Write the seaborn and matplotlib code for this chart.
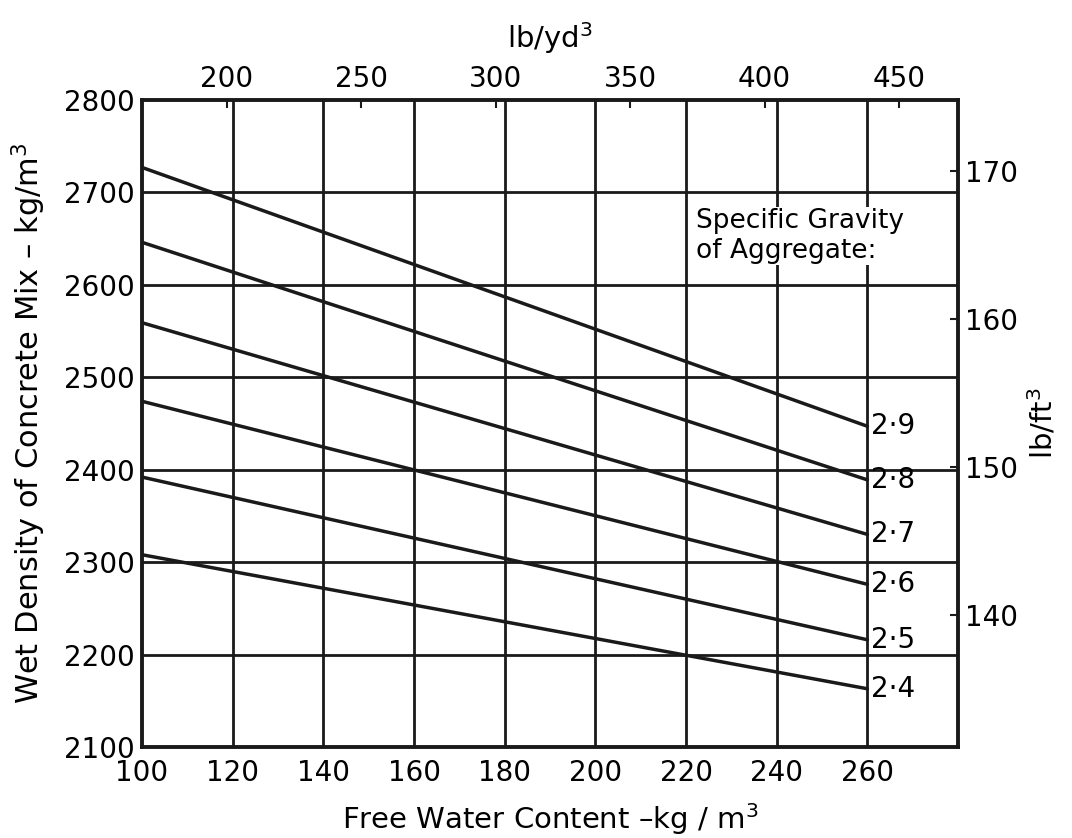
import matplotlib
matplotlib.use("Agg")
import matplotlib.pyplot as plt
import seaborn as sns
import pandas as pd

# Data (straight lines, endpoints)
water_kg = [100, 260]
sg_labels = ["2·9", "2·8", "2·7", "2·6", "2·5", "2·4"]
density_2_9 = [2727, 2447]
density_2_8 = [2646, 2389]
density_2_7 = [2559, 2330]
density_2_6 = [2474, 2276]
density_2_5 = [2392, 2216]
density_2_4 = [2308, 2163]
series = [density_2_9, density_2_8, density_2_7, density_2_6, density_2_5, density_2_4]

x_ticks = [100, 120, 140, 160, 180, 200, 220, 240, 260]
y_ticks = [2100, 2200, 2300, 2400, 2500, 2600, 2700, 2800]
top_ticks = [200, 250, 300, 350, 400, 450]
right_ticks = [140, 150, 160, 170]

rows = []
for lab, vals in zip(sg_labels, series):
    for x, y in zip(water_kg, vals):
        rows.append({"water": x, "density": y, "sg": lab})
df = pd.DataFrame(rows)

sns.set_theme(style="white")
plt.rcParams["font.family"] = ["DejaVu Sans"]
plt.rcParams["mathtext.fontset"] = "dejavusans"
plt.rcParams["axes.labelcolor"] = "black"

ink = "#1a1a1a"
fig = plt.figure(figsize=(10.72, 8.38), dpi=100)
ax = fig.add_axes([0.1325, 0.1086, 0.7612, 0.7721])

sns.lineplot(data=df, x="water", y="density", hue="sg",
             palette=[ink] * len(sg_labels), linewidth=2.5, legend=False, ax=ax)

ax.set_xlim(100, 280)
ax.set_ylim(2100, 2800)
ax.set_xticks(x_ticks)
ax.set_yticks(y_ticks)
# grid lines at interior ticks
for xv in x_ticks[1:]:
    ax.axvline(xv, color=ink, lw=2.0, zorder=0)
for yv in y_ticks[1:-1]:
    ax.axhline(yv, color=ink, lw=2.0, zorder=0)

for s in ax.spines.values():
    s.set_color(ink)
    s.set_linewidth(2.8)

ax.tick_params(axis="both", which="both", length=0, labelsize=20, colors="black", pad=5)
ax.tick_params(axis="x", pad=9)
ax.set_xlabel("Free Water Content –kg / m$^3$", fontsize=21, labelpad=10)
ax.set_ylabel("Wet Density of Concrete Mix – kg/m$^3$", fontsize=22, labelpad=12)

for lab, vals in zip(sg_labels, series):
    ax.text(water_kg[-1] + 0.8, vals[-1], lab, fontsize=20, va="center", ha="left", color="black")

ax.text(222.3, 2683, "Specific Gravity\nof Aggregate:", fontsize=19, va="top", ha="left",
        color="black", linespacing=1.2,
        bbox=dict(facecolor="white", edgecolor="none", pad=1))

KG_TO_LBYD3 = 1.68555
KG_TO_LBFT3 = 0.0624280
top = ax.secondary_xaxis("top", functions=(lambda v: v * KG_TO_LBYD3, lambda v: v / KG_TO_LBYD3))
top.set_xticks(top_ticks)
top.tick_params(direction="in", length=6, width=1.5, labelsize=20, pad=5, colors=ink, labelcolor="black")
top.set_xlabel("lb/yd$^3$", fontsize=21, labelpad=12)
top.spines["top"].set_visible(False)

right = ax.secondary_yaxis("right", functions=(lambda v: v * KG_TO_LBFT3, lambda v: v / KG_TO_LBFT3))
right.set_yticks(right_ticks)
right.tick_params(direction="in", length=6, width=1.5, labelsize=20, pad=5, colors=ink, labelcolor="black")
right.set_ylabel("lb/ft$^3$", fontsize=21, labelpad=6, rotation=90)
right.spines["right"].set_visible(False)

fig.savefig("out.png", dpi=100, facecolor="white")
